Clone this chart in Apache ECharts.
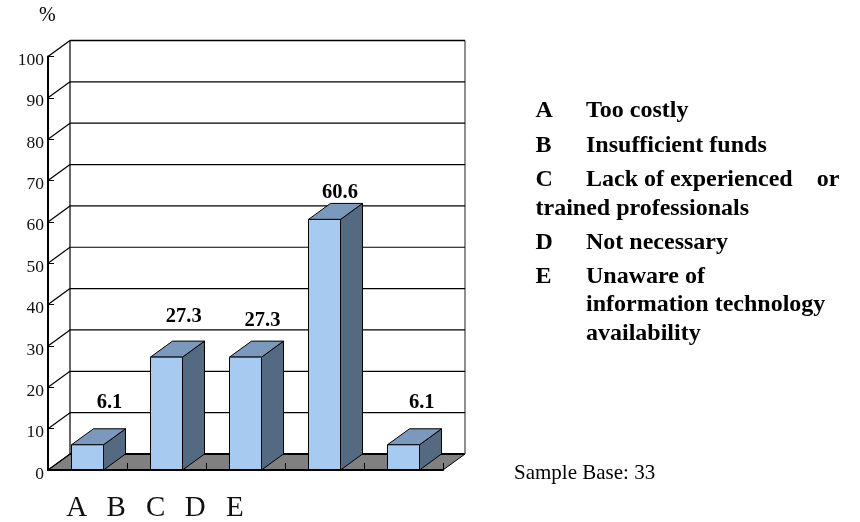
<!DOCTYPE html>
<html><head><meta charset="utf-8">
<style>html,body{margin:0;padding:0;background:#fff}#c{width:860px;height:522px}</style>
<script src="https://cdn.jsdelivr.net/npm/echarts@6/dist/echarts.min.js"></script></head>
<body><div id="c"></div>
<script>
const categories = ['A','B','C','D','E'];
const values = [6.1, 27.3, 27.3, 60.6, 6.1];
const yTicks = [0,10,20,30,40,50,60,70,80,90,100];
const legendLines = [
  ['A','Too costly'],
  ['B','Insufficient funds'],
  ['C','Lack of experienced    or'],
  ['','trained professionals'],
  ['D','Not necessary'],
  ['E','Unaware of'],
  ['','information technology'],
  ['','availability']
];
const sampleNote = 'Sample Base: 33';

const FONT = '"Liberation Serif","Times New Roman",serif';
const DX = 22, DY = 16, BAR_W = 32;
// manual placement of value labels relative to the back top edge of each bar
const labelLift = [26.4, 24, 20, 11, 26.4];
const labelShift = [0, -4.8, -5, -6.5, -3.7];
// legend text baselines
const legendBase = [119.3,154,188,216.7,251,285,313,342];
const LEG_KEY_X = 535.5, LEG_TEXT_X = 586, LEG_FONT = 24;

function wallItem(params, api){
  const v = api.value(1), cs = params.coordSys;
  const y = api.coord([0, v])[1];
  const xl = cs.x, xr = cs.x + cs.width;
  const line = (x1,y1,x2,y2,w,c)=>({type:'line',shape:{x1,y1,x2,y2},style:{stroke:c||'#000',lineWidth:w||1}});
  const kids = [];
  if (v === 0){
    kids.push({type:'polygon',shape:{points:[[xl,y],[xl+DX,y-DY],[xr+DX,y-DY],[xr,y]]},style:{fill:'#808080',stroke:'#000',lineWidth:1}});
    kids.push(line(xl+DX,y-DY,xr+DX,y-DY,2));
    kids.push(line(xl+DX,y-DY,xl+DX,cs.y-DY,1.2));
    kids.push(line(xr+DX,y-DY,xr+DX,cs.y-DY,1.2,'#444'));
  } else {
    kids.push(line(xl+DX,y-DY,xr+DX,y-DY,v===100?1.6:1.2));
  }
  kids.push(line(xl,y,xl+DX,y-DY,1.2));
  return {type:'group',children:kids};
}
function barItem(params, api){
  const i = params.dataIndex, v = api.value(1);
  const c = api.coord([i, v]), b = api.coord([i, 0]);
  const x0 = c[0]-BAR_W/2, x1 = c[0]+BAR_W/2, yt = c[1], yb = b[1];
  const st = f=>({fill:f,stroke:'#000',lineWidth:1});
  return {type:'group',children:[
    {type:'polygon',shape:{points:[[x1,yb],[x1+DX,yb-DY],[x1+DX,yt-DY],[x1,yt]]},style:st('#546A80')},
    {type:'polygon',shape:{points:[[x0,yt],[x0+DX,yt-DY],[x1+DX,yt-DY],[x1,yt]]},style:st('#7A99BC')},
    {type:'rect',shape:{x:x0,y:yt,width:BAR_W,height:yb-yt},style:st('#A6CAF0')},
    {type:'text',style:{text:v.toFixed(1),x:c[0]+DX+labelShift[i],y:yt-DY-labelLift[i],
      align:'center',verticalAlign:'middle',fill:'#000',font:'bold 20.5px '+FONT}}
  ]};
}

const txt = (s,x,y,font)=>({type:'text',x,y,style:{text:s,font,fill:'#000',align:'left',verticalAlign:'middle'}});
const graphic = [
  txt('%',39,16,'20px '+FONT),
  txt(sampleNote,514,473,'21px '+FONT)
];
const legFont = 'bold '+LEG_FONT+'px '+FONT;
legendLines.forEach((l,i)=>{
  const y = legendBase[i]-0.3375*LEG_FONT;
  if (l[0]) {
    graphic.push(txt(l[0],LEG_KEY_X,y,legFont));
    graphic.push(txt(l[1],LEG_TEXT_X,y,legFont));
  } else {
    graphic.push(txt(l[1],l[1]==='trained professionals'?LEG_KEY_X:LEG_TEXT_X,y,legFont));
  }
});

const chart = echarts.init(document.getElementById('c'),null,{renderer:'canvas'});
chart.setOption({
  animation:false,
  backgroundColor:'#fff',
  textStyle:{fontFamily:FONT},
  grid:[
    {left:48,top:56.5,width:395,height:413.5},
    {left:57,top:470,width:197.5,height:1,show:false}
  ],
  xAxis:[
    {type:'category',gridIndex:0,data:categories,z:5,
     axisLine:{show:true,lineStyle:{color:'#000',width:2}},
     axisTick:{show:true,inside:true,length:7,alignWithLabel:false,lineStyle:{color:'#000',width:1}},
     axisLabel:{show:false},splitLine:{show:false}},
    {type:'category',gridIndex:1,data:categories,
     axisLine:{show:false},axisTick:{show:false},
     axisLabel:{show:true,margin:24,fontSize:29,color:'#111',fontFamily:FONT,interval:0}}
  ],
  yAxis:[
    {type:'value',gridIndex:0,min:0,max:100,interval:10,z:5,
     axisLine:{show:true,lineStyle:{color:'#000',width:2}},
     axisTick:{show:true,inside:true,length:6,lineStyle:{color:'#000',width:1}},
     axisLabel:{show:true,margin:4,color:'#111',fontFamily:FONT,
       formatter:v=>'{a|'+v+'}',
       rich:{a:{fontSize:17.5,fontFamily:FONT,color:'#111',padding:[8,0,0,0]}},
       customValues:yTicks,showMinLabel:true,showMaxLabel:true},
     splitLine:{show:false}},
    {type:'value',gridIndex:1,show:false}
  ],
  series:[
    {type:'custom',xAxisIndex:0,yAxisIndex:0,silent:true,z:1,renderItem:wallItem,
     data:yTicks.map(v=>[0,v]),encode:{x:0,y:1},clip:false},
    {type:'custom',xAxisIndex:0,yAxisIndex:0,silent:true,z:2,renderItem:barItem,
     data:values.map((v,i)=>[i,v]),encode:{x:0,y:1},clip:false}
  ],
  graphic:graphic
});
</script></body></html>
